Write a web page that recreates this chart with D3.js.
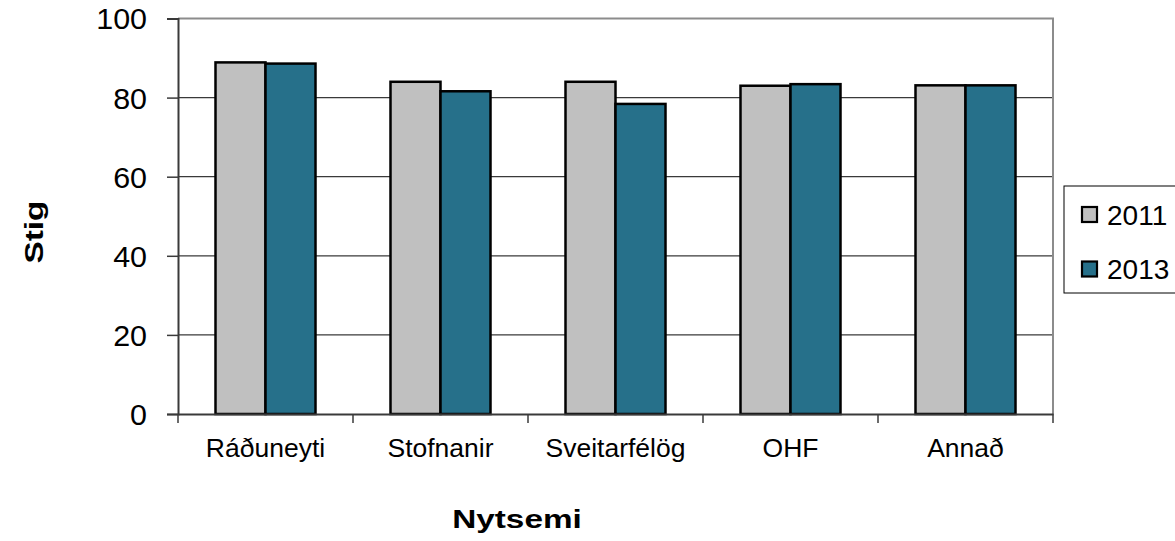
<!DOCTYPE html>
<html>
<head>
<meta charset="utf-8">
<script src="https://cdn.jsdelivr.net/npm/d3@7"></script>
<style>
  body { margin: 0; background: #fff; }
  text { font-family: "Liberation Sans", Arial, sans-serif; fill: #000; }
</style>
</head>
<body>
<div id="chart"></div>
<script>
const categories = ["Ráðuneyti", "Stofnanir", "Sveitarfélög", "OHF", "Annað"];
const years = ["2011", "2013"];
const values2011 = [88.9, 84.0, 84.0, 83.0, 83.1];
const values2013 = [88.6, 81.6, 78.4, 83.4, 83.1];
const yTicks = [0, 20, 40, 60, 80, 100];
const colors = ["#c0c0c0", "#26708a"];

const w = 1175, h = 541;
const plotL = 178, plotR = 1053, plotT = 18.5, plotB = 414;

const svg = d3.select("#chart")
    .append("svg")
    .attr("width", w)
    .attr("height", h);

// widen text along its reading direction (the original glyphs are stretched)
function stretch(sel, k) {
    sel.each(function () {
        const len = this.getComputedTextLength();
        d3.select(this)
            .attr("textLength", len * k)
            .attr("lengthAdjust", "spacingAndGlyphs");
    });
}

const x = d3.scaleBand()
    .domain(categories)
    .range([plotL, plotR]);

const xInner = d3.scaleBand()
    .domain(years)
    .range([0, x.bandwidth()])
    .paddingOuter(0.75);

const y = d3.scaleLinear()
    .domain([0, 100])
    .range([plotB, plotT]);

// gridlines
svg.append("g")
    .selectAll("line")
    .data(yTicks.filter(d => d > 0 && d < 100))
    .enter()
    .append("line")
    .attr("x1", plotL)
    .attr("x2", plotR)
    .attr("y1", d => y(d))
    .attr("y2", d => y(d))
    .attr("stroke", "#3a3a3a")
    .attr("stroke-width", 1.3);

// plot border (top + right)
svg.append("path")
    .attr("d", `M${plotL},${y(100)}H${plotR}V${plotB}`)
    .attr("fill", "none")
    .attr("stroke", "#8c8c8c")
    .attr("stroke-width", 2);

// bars
const rows = categories.map((c, i) => ({ cat: c, vals: [values2011[i], values2013[i]] }));

const groups = svg.selectAll(".grp")
    .data(rows)
    .enter()
    .append("g")
    .attr("transform", d => "translate(" + x(d.cat) + ",0)");

groups.selectAll("rect")
    .data(d => d.vals.map((v, j) => ({ year: years[j], v: v, j: j })))
    .enter()
    .append("rect")
    .attr("x", d => xInner(d.year))
    .attr("y", d => y(d.v))
    .attr("width", xInner.bandwidth())
    .attr("height", d => plotB - y(d.v))
    .attr("fill", d => colors[d.j])
    .attr("stroke", "#000")
    .attr("stroke-width", 2.5);

// y axis
const yAxis = d3.axisLeft(y)
    .tickValues(yTicks)
    .tickSize(11)
    .tickPadding(20);

const gy = svg.append("g")
    .attr("transform", "translate(" + plotL + ",0)")
    .call(yAxis);
gy.select(".domain").attr("stroke", "#3a3a3a").attr("stroke-width", 2);
gy.selectAll(".tick line").attr("stroke", "#3a3a3a").attr("stroke-width", 1.5);
gy.selectAll(".tick text")
    .attr("font-size", 29)
    .attr("font-family", "Liberation Sans, Arial, sans-serif")
    .attr("dy", "0.36em")
    .call(stretch, 1.05);

// x axis
const gx = svg.append("g")
    .attr("transform", "translate(0," + plotB + ")")
    .call(d3.axisBottom(x).tickSize(0).tickPadding(25));
gx.select(".domain").attr("stroke", "#3a3a3a").attr("stroke-width", 2);
gx.selectAll(".tick text")
    .attr("font-size", 25)
    .attr("font-family", "Liberation Sans, Arial, sans-serif")
    .call(stretch, 1.06);

// x tick marks at band boundaries
gx.selectAll(".sep")
    .data(categories.map(c => x(c)).concat([plotR]))
    .enter()
    .append("line")
    .attr("x1", d => d)
    .attr("x2", d => d)
    .attr("y1", 0)
    .attr("y2", 9)
    .attr("stroke", "#3a3a3a")
    .attr("stroke-width", 1.5);

// axis titles
svg.append("text")
    .attr("x", 517)
    .attr("y", 527.5)
    .attr("text-anchor", "middle")
    .attr("font-size", 26)
    .attr("font-weight", "bold")
    .text("Nytsemi")
    .call(stretch, 1.28);

svg.append("text")
    .attr("transform", "translate(43,232) rotate(-90)")
    .attr("text-anchor", "middle")
    .attr("font-size", 26)
    .attr("font-weight", "bold")
    .text("Stig")
    .call(stretch, 1.28);

// legend
const lg = svg.append("g").attr("transform", "translate(1064,186)");
lg.append("rect")
    .attr("width", 130)
    .attr("height", 107)
    .attr("fill", "#fff")
    .attr("stroke", "#000")
    .attr("stroke-width", 1);

const items = lg.selectAll(".item")
    .data(years)
    .enter()
    .append("g")
    .attr("transform", (d, i) => "translate(18," + (21 + i * 54.5) + ")");

items.append("rect")
    .attr("width", 15)
    .attr("height", 15)
    .attr("fill", (d, i) => colors[i])
    .attr("stroke", "#000")
    .attr("stroke-width", 2.2);

items.append("text")
    .attr("x", 25)
    .attr("y", 17.5)
    .attr("font-size", 28)
    .text(d => d);
</script>
</body>
</html>
